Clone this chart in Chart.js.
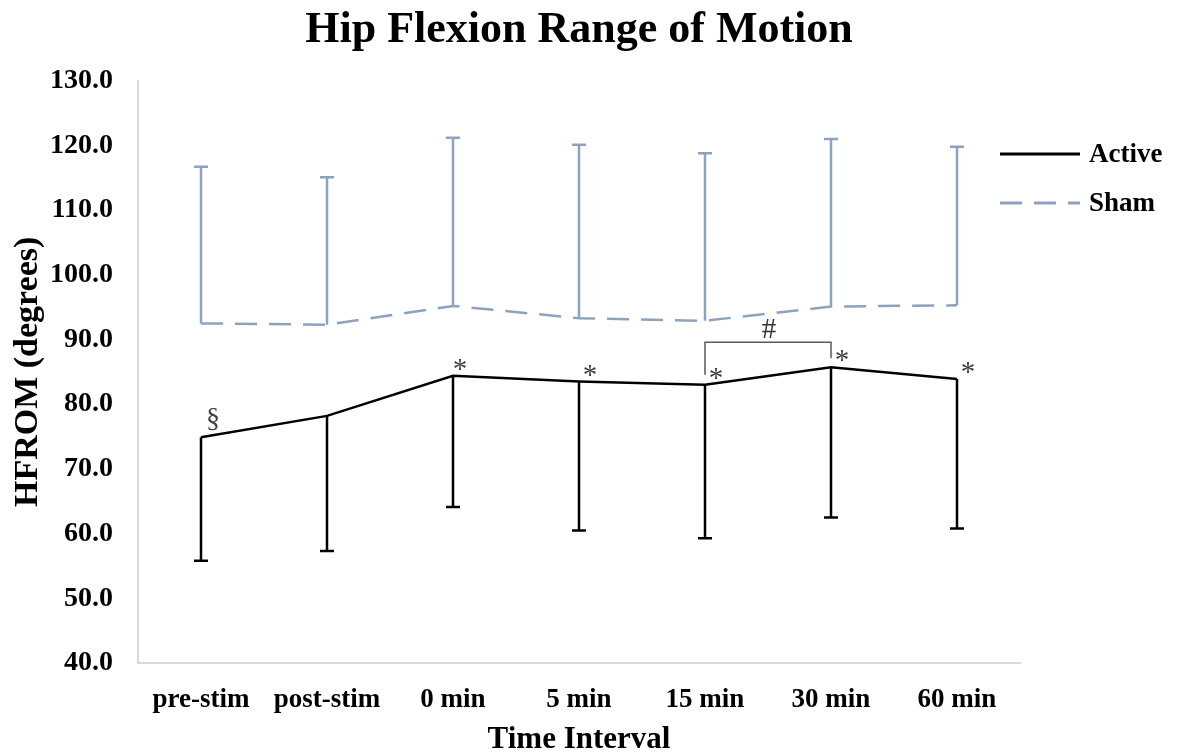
<!DOCTYPE html>
<html>
<head>
<meta charset="utf-8">
<script src="https://cdn.jsdelivr.net/npm/chart.js@4.4.0/dist/chart.umd.min.js"></script>
<style>
  body { margin: 0; background: #fff; }
  #wrap { width: 1178px; height: 755px; }
</style>
</head>
<body>
<div id="wrap"><canvas id="chart" width="1178" height="755"></canvas></div>
<script>
// Data
const categories = ['pre-stim', 'post-stim', '0 min', '5 min', '15 min', '30 min', '60 min'];
const activeMean = [74.9, 78.2, 84.4, 83.5, 83.0, 85.7, 83.9];
const activeSD = [19.1, 20.9, 20.3, 23.0, 23.7, 23.2, 23.1];
const shamMean = [92.5, 92.3, 95.2, 93.3, 92.9, 95.1, 95.3];
const shamSD = [24.2, 22.8, 26.0, 26.8, 25.9, 25.9, 24.5];
const activeMarks = ['§', '', '*', '*', '*', '*', '*'];
const bracketPair = [4, 5];
const bracketLevel = 89.6;

const serif = '"Liberation Serif", "Times New Roman", serif';
const shamColor = '#8DA2C0';

// Error bars, significance marks and legend
const extrasPlugin = {
  id: 'extras',
  afterDatasetsDraw(chart) {
    const { ctx, scales: { x, y } } = chart;
    ctx.save();
    chart.data.datasets.forEach((ds) => {
      ctx.strokeStyle = ds.borderColor;
      ctx.lineWidth = 2.5;
      ctx.setLineDash([]);
      ds.data.forEach((v, j) => {
        const px = x.getPixelForValue(j);
        const y0 = y.getPixelForValue(v);
        const y1 = y.getPixelForValue(v + ds.errDir * ds.sd[j]);
        ctx.beginPath();
        ctx.moveTo(px, y0);
        ctx.lineTo(px, y1);
        ctx.moveTo(px - 7, y1);
        ctx.lineTo(px + 7, y1);
        ctx.stroke();
      });
    });

    // marks above the active line
    ctx.fillStyle = '#404040';
    ctx.textAlign = 'center';
    ctx.textBaseline = 'alphabetic';
    activeMarks.forEach((m, j) => {
      if (!m) return;
      const px = x.getPixelForValue(j);
      const py = y.getPixelForValue(activeMean[j]);
      if (m === '§') {
        ctx.font = '28px ' + serif;
        ctx.fillText(m, px + 12, py - 10);
      } else {
        ctx.font = '29px ' + serif;
        ctx.fillText(m, px + (j === 2 ? 7 : 11), py + 2);
      }
    });

    // bracket between 15 and 30 min
    const bx0 = x.getPixelForValue(bracketPair[0]);
    const bx1 = x.getPixelForValue(bracketPair[1]);
    const by = y.getPixelForValue(bracketLevel);
    ctx.strokeStyle = '#595959';
    ctx.lineWidth = 1.5;
    ctx.beginPath();
    ctx.moveTo(bx0, y.getPixelForValue(activeMean[bracketPair[0]]) - 10);
    ctx.lineTo(bx0, by);
    ctx.lineTo(bx1, by);
    ctx.lineTo(bx1, y.getPixelForValue(activeMean[bracketPair[1]]) - 9);
    ctx.stroke();
    ctx.fillStyle = '#333';
    ctx.font = '29px ' + serif;
    ctx.fillText('#', (bx0 + bx1) / 2 + 1, by - 4);
    ctx.restore();
  },
  afterDraw(chart) {
    const { ctx } = chart;
    ctx.save();
    ctx.font = 'bold 27px ' + serif;
    ctx.textAlign = 'left';
    ctx.textBaseline = 'middle';
    chart.data.datasets.forEach((ds, i) => {
      const ly = 154 + i * 49;
      ctx.strokeStyle = ds.borderColor;
      ctx.lineWidth = 3;
      ctx.setLineDash(ds.borderDash || []);
      ctx.beginPath();
      ctx.moveTo(1000, ly);
      ctx.lineTo(1080, ly);
      ctx.stroke();
      ctx.fillStyle = '#000';
      ctx.fillText(ds.label, 1089, ly + 1);
    });
    ctx.restore();
  }
};

new Chart(document.getElementById('chart'), {
  type: 'line',
  data: {
    labels: categories,
    datasets: [
      {
        label: 'Active',
        data: activeMean,
        sd: activeSD,
        errDir: -1,
        borderColor: '#000',
        borderWidth: 2.5,
        pointRadius: 0,
        tension: 0,
        yAxisID: 'y'
      },
      {
        label: 'Sham',
        data: shamMean,
        sd: shamSD,
        errDir: 1,
        borderColor: shamColor,
        borderWidth: 2.5,
        borderDash: [22, 12],
        pointRadius: 0,
        tension: 0,
        yAxisID: 'y'
      }
    ]
  },
  options: {
    responsive: false,
    animation: false,
    layout: { padding: { right: 20 } },
    plugins: {
      legend: { display: false },
      tooltip: { enabled: false },
      title: {
        display: true,
        text: 'Hip Flexion Range of Motion',
        color: '#000',
        font: { family: serif, size: 44, weight: 'bold' },
        padding: { top: 4, bottom: 24 }
      }
    },
    scales: {
      x: {
        offset: true,
        grid: { display: false, drawTicks: false },
        border: { display: true, color: '#d9d9d9', width: 2 },
        ticks: {
          color: '#000',
          padding: 21,
          font: { family: serif, size: 27, weight: 'bold' }
        },
        title: {
          display: true,
          text: 'Time Interval',
          color: '#000',
          font: { family: serif, size: 31, weight: 'bold', lineHeight: 1 },
          padding: 0
        },
        afterFit(scale) { scale.height = 92; }
      },
      y: {
        min: 40,
        max: 130,
        grid: { display: false, drawTicks: false },
        border: { display: true, color: '#d9d9d9', width: 2 },
        ticks: {
          stepSize: 10,
          color: '#000',
          padding: 25,
          font: { family: serif, size: 28, weight: 'bold' },
          callback: (v) => v.toFixed(1)
        },
        title: {
          display: true,
          text: 'HFROM (degrees)',
          color: '#000',
          font: { family: serif, size: 34, weight: 'bold', lineHeight: 1 },
          padding: { top: 11, bottom: 0 }
        },
        afterFit(scale) { scale.width = 138; }
      },
      yR: {
        position: 'right',
        grid: { display: false, drawTicks: false },
        border: { display: false },
        ticks: { display: false },
        afterFit(scale) { scale.width = 138; }
      }
    }
  },
  plugins: [extrasPlugin]
});
</script>
</body>
</html>
